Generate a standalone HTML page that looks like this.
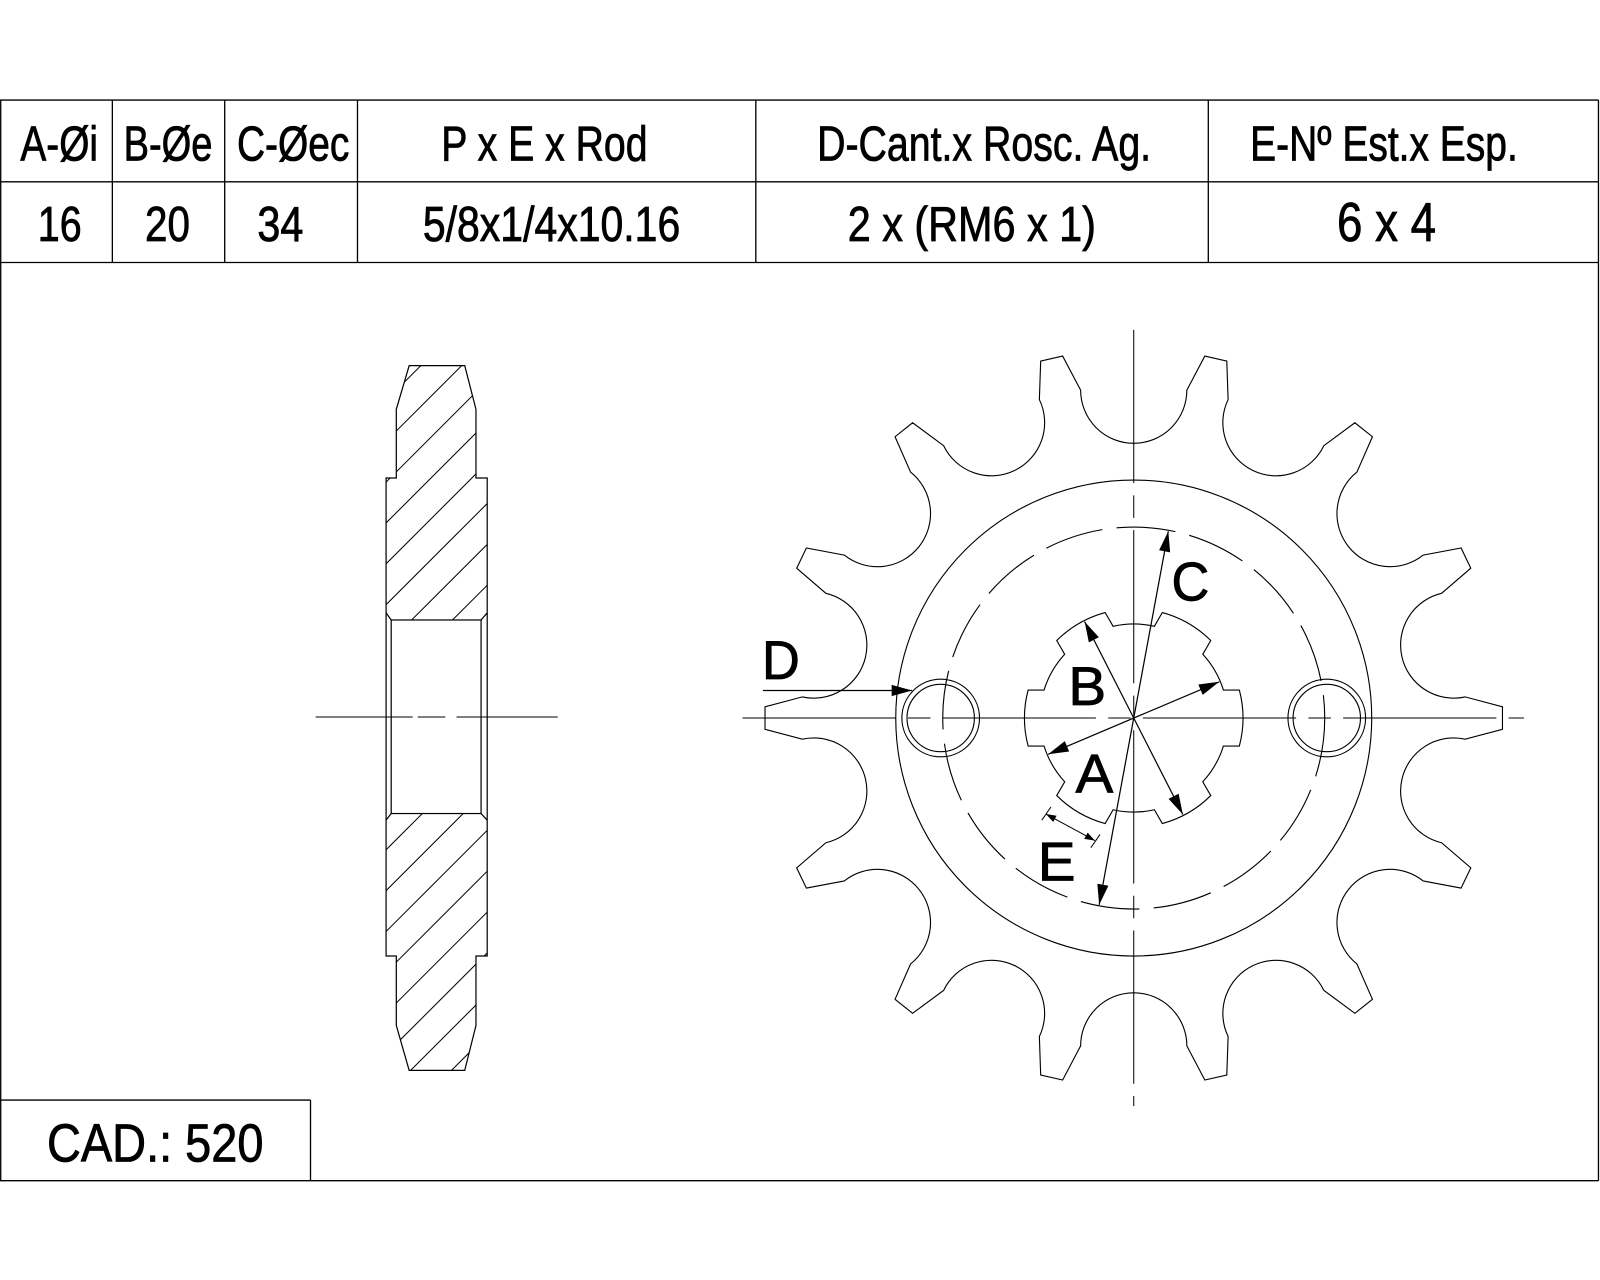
<!DOCTYPE html>
<html><head><meta charset="utf-8"><style>
html,body{margin:0;padding:0;background:#fff;}
svg{display:block;}
text{font-family:"Liberation Sans",Arial,sans-serif;fill:#000;stroke:#000;stroke-width:0.8;}
</style></head><body>
<svg id="dwg" xmlns="http://www.w3.org/2000/svg" width="1600" height="1280" viewBox="0 0 1566.5 1253.2">
<rect x="0" y="0" width="1566.5" height="1253.2" fill="#fff"/>
<g stroke="#000" stroke-width="1.3" fill="none">
  <line x1="0" y1="98" x2="1565" y2="98"/>
  <line x1="0" y1="178" x2="1565" y2="178"/>
  <line x1="0" y1="257" x2="1565" y2="257"/>
  <line x1="0.7" y1="98" x2="0.7" y2="1156"/>
  <line x1="1565" y1="98" x2="1565" y2="1156"/>
  <line x1="0" y1="1156" x2="1565" y2="1156"/>
  <line x1="110" y1="98" x2="110" y2="257"/>
  <line x1="220" y1="98" x2="220" y2="257"/>
  <line x1="350" y1="98" x2="350" y2="257"/>
  <line x1="740" y1="98" x2="740" y2="257"/>
  <line x1="1183" y1="98" x2="1183" y2="257"/>
  <line x1="0" y1="1077" x2="304" y2="1077"/>
  <line x1="304" y1="1077" x2="304" y2="1156"/>
</g>
<g font-size="48">
  <text x="20" y="157" textLength="76" lengthAdjust="spacingAndGlyphs">A-Øi</text>
  <text x="121" y="157" textLength="87" lengthAdjust="spacingAndGlyphs">B-Øe</text>
  <text x="232" y="157" textLength="110" lengthAdjust="spacingAndGlyphs">C-Øec</text>
  <text x="432" y="157" textLength="202" lengthAdjust="spacingAndGlyphs">P x E x Rod</text>
  <text x="800" y="157" textLength="327" lengthAdjust="spacingAndGlyphs">D-Cant.x Rosc. Ag.</text>
  <text x="1224" y="157" textLength="262" lengthAdjust="spacingAndGlyphs">E-Nº Est.x Esp.</text>
  <text x="37" y="236" textLength="43" lengthAdjust="spacingAndGlyphs">16</text>
  <text x="142" y="236" textLength="44" lengthAdjust="spacingAndGlyphs">20</text>
  <text x="252" y="236" textLength="45" lengthAdjust="spacingAndGlyphs">34</text>
  <text x="414" y="236" textLength="252" lengthAdjust="spacingAndGlyphs">5/8x1/4x10.16</text>
  <text x="830" y="236" textLength="243" lengthAdjust="spacingAndGlyphs">2 x (RM6 x 1)</text>
  <text x="1309" y="236" font-size="54" textLength="97" lengthAdjust="spacingAndGlyphs">6 x 4</text>
  <text x="46" y="1137" font-size="53" textLength="212" lengthAdjust="spacingAndGlyphs">CAD.: 520</text>
</g>
<defs>
  <clipPath id="secclip">
    <polygon points="400.6,358 455,358 466,400.7 466,468 477,468 477,607 378,607 378,468 388,468 388,400.7"/>
    <polygon points="378,796.5 477,796.5 477,936 466,936 466,1004 455,1048 400.6,1048 388,1004 388,936 378,936"/>
  </clipPath>
</defs>
<g id="side" stroke="#000" stroke-width="1.2" fill="none"></g>
<g id="gear" stroke="#000" stroke-width="1.1" fill="none"></g>
<g id="dims"></g>
</svg>
<script>
const NS="http://www.w3.org/2000/svg";
const toothCount=[14];
const keyCount=[6];
const radii={tip:361,root:269,hub:233,bolt:187,boreOuter:107,boreInner:92};
const cx=1110, cy=703;
function mk(parent,tag,attrs){const e=document.createElementNS(NS,tag);for(const k in attrs)e.setAttribute(k,attrs[k]);parent.appendChild(e);return e;}
const side=document.getElementById('side');
const gear=document.getElementById('gear');
const dims=document.getElementById('dims');

let el=mk(side,'polygon',{points:"400.6,358 455,358 466,400.7 466,468 477,468 477,936 466,936 466,1004 455,1048 400.6,1048 388,1004 388,936 378,936 378,468 388,468 388,400.7"});


el=mk(side,'rect',{x:383,y:607,width:88,height:189.5});


mk(side,'path',{d:"M378,600 L383,607 M477,600 L471,607 M378,803 L383,796.5 M477,803 L471,796.5"});
const hg=mk(side,'g',{'clip-path':'url(#secclip)'});


for(let b=300;b<1200;b+=40){mk(hg,'line',{x1:370,y1:b+100,x2:490,y2:b-20,'stroke-width':1});}
el=mk(side,'path',{d:"M309,702 H404 M409,702 H436 M447,702 H546",'stroke-width':1});



const N=toothCount[0], rho=52, Rc=radii.root+rho, hw=11;
let d="";
for(let i=0;i<N;i++){
  const a=i*2*Math.PI/N;
  const ca=Math.cos(a),sa=Math.sin(a),tx=-sa,ty=ca;
  const A=[cx+radii.tip*ca-hw*tx,cy+radii.tip*sa-hw*ty];
  const B=[cx+radii.tip*ca+hw*tx,cy+radii.tip*sa+hw*ty];
  const g=a+Math.PI/N, gc=Math.cos(g), gs=Math.sin(g), gtx=-gs, gty=gc;
  const G=[cx+Rc*gc,cy+Rc*gs];
  const P1=[G[0]-rho*gtx,G[1]-rho*gty], P2=[G[0]+rho*gtx,G[1]+rho*gty];
  d+=(i===0?"M":"L")+A[0].toFixed(1)+","+A[1].toFixed(1)+" L"+B[0].toFixed(1)+","+B[1].toFixed(1)+" L"+P1[0].toFixed(1)+","+P1[1].toFixed(1)+" A"+rho+","+rho+" 0 0 0 "+P2[0].toFixed(1)+","+P2[1].toFixed(1)+" ";
}
d+="Z";
el=mk(gear,'path',{d:d});


el=mk(gear,'circle',{cx:cx,cy:cy,r:radii.hub});


el=mk(gear,'circle',{cx:cx,cy:cy,r:radii.bolt,'stroke-dasharray':'58 14'});


[-1,1].forEach(s=>{
  const h=mk(gear,'g',{});
  
  
  mk(h,'circle',{cx:cx+s*189,cy:cy,r:38});
  mk(h,'circle',{cx:cx+s*189,cy:cy,r:33});
});
const K=keyCount[0], w=27.4;
const ro=radii.boreOuter, ri=radii.boreInner;
function rot(x,y,a){return [cx+x*Math.cos(a)-y*Math.sin(a), cy+x*Math.sin(a)+y*Math.cos(a)];}
let bd="";
const xi=Math.sqrt(ri*ri-w*w), xo=Math.sqrt(ro*ro-w*w);
for(let k=0;k<K;k++){
  const a=k*2*Math.PI/K;
  const p1=rot(xi,-w,a),p2=rot(xo,-w,a),p3=rot(xo,w,a),p4=rot(xi,w,a);
  const n=rot(xi,-w,a+2*Math.PI/K);
  bd+=(k===0?"M":"L")+p1.map(v=>v.toFixed(1)).join(",")+" L"+p2.map(v=>v.toFixed(1)).join(",")+" A"+ro+","+ro+" 0 0 1 "+p3.map(v=>v.toFixed(1)).join(",")+" L"+p4.map(v=>v.toFixed(1)).join(",")+" A"+ri+","+ri+" 0 0 1 "+n.map(v=>v.toFixed(1)).join(",")+" ";
}
bd+="Z";
el=mk(gear,'path',{d:bd});


el=mk(gear,'line',{x1:cx,y1:323,x2:cx,y2:1083,'stroke-dasharray':'150 12 22 12','stroke-width':1});


el=mk(gear,'line',{x1:727,y1:cy,x2:1492,y2:cy,'stroke-dasharray':'150 12 22 12','stroke-width':1});



function arrowHead(g,x1,y1,x2,y2,L,W){
  const dx=x2-x1,dy=y2-y1,len=Math.hypot(dx,dy),ux=dx/len,uy=dy/len;
  const bx=x2-ux*L,by=y2-uy*L;
  mk(g,'polygon',{points:x2+","+y2+" "+(bx-uy*W)+","+(by+ux*W)+" "+(bx+uy*W)+","+(by-ux*W),fill:'#000',stroke:'none'});
}
function dimDia(name,ux,uy,r){
  const g=mk(dims,'g',{stroke:'#000','stroke-width':1.2});
  
  
  const l=Math.hypot(ux,uy);ux/=l;uy/=l;
  const x1=cx-ux*r,y1=cy-uy*r,x2=cx+ux*r,y2=cy+uy*r;
  mk(g,'line',{x1:x1,y1:y1,x2:x2,y2:y2});
  arrowHead(g,cx,cy,x2,y2,20,5.5);
  arrowHead(g,cx,cy,x1,y1,20,5.5);
}
dimDia('dimension-b',-0.454,-0.891,106);
dimDia('dimension-a',0.92,-0.39,91);
dimDia('dimension-c',0.182,-0.983,186);
let gd=mk(dims,'g',{stroke:'#000','stroke-width':1.2});


mk(gd,'line',{x1:747,y1:676,x2:893,y2:676});
arrowHead(gd,747,676,893,676,20,5.5);
let ge=mk(dims,'g',{stroke:'#000','stroke-width':1});


mk(ge,'line',{x1:1024,y1:797,x2:1072,y2:823});
arrowHead(ge,1072,823,1024,797,10,3.5);
arrowHead(ge,1024,797,1072,823,10,3.5);
mk(ge,'line',{x1:1020,y1:803,x2:1029,y2:790});
mk(ge,'line',{x1:1068,y1:830,x2:1077,y2:817});
const labels=[['C',1147,588,'label-c'],['B',1046,690,'label-b'],['A',1053,776,'label-a'],['E',1016,862,'label-e'],['D',746,665,'label-d']];
labels.forEach(l=>{
  const t=mk(dims,'text',{x:l[1],y:l[2],'font-size':54,textLength:37,lengthAdjust:'spacingAndGlyphs','stroke-width':1.2});
  t.textContent=l[0];
  
  
});
</script>
</body></html>
